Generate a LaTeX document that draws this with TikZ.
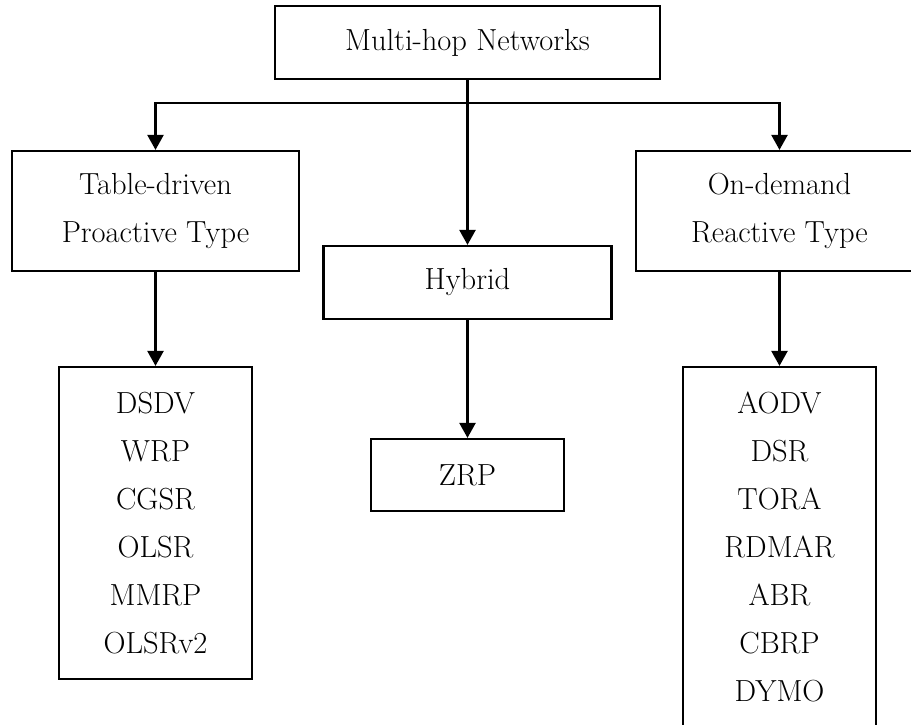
\documentclass[tikz,border=0pt]{standalone}
\usetikzlibrary{arrows.meta}
\begin{document}
\begin{tikzpicture}[x=1pt,y=1pt,
  box/.style={draw=black,line width=2.2pt,inner sep=0pt,align=center,
    font=\fontsize{30.5}{48}\selectfont},
  arr/.style={draw=black,line width=2.4pt,-{Triangle[length=15pt,width=16pt]}}]
\useasboundingbox (0,0) rectangle (911,-724);
\fill[white] (0,0) rectangle (911,-724);
\node[box,minimum width=385pt,minimum height=73pt] (top) at (467.5,-42.5) {Multi-hop Networks};
\node[box,minimum width=287pt,minimum height=120pt] (tab) at (155.5,-211) {Table-driven\\Proactive Type};
\node[box,minimum width=287pt,minimum height=120pt] (ond) at (779.5,-211) {On-demand\\Reactive Type};
\node[box,minimum width=288pt,minimum height=73pt] (hyb) at (467.5,-282.5) {Hybrid};
\node[box,minimum width=193pt,minimum height=72pt] (zrp) at (467.5,-475) {ZRP};
\node[box,minimum width=193pt,minimum height=312pt] (pl) at (155.5,-523) {DSDV\\WRP\\CGSR\\OLSR\\MMRP\\OLSRv2};
\node[box,minimum width=193pt,minimum height=360pt] (rl) at (779.5,-547) {AODV\\DSR\\TORA\\RDMAR\\ABR\\CBRP\\DYMO};
\coordinate (j) at (467.5,-103);
\draw[arr] (top.south) -- (hyb.north);
\draw[arr] (j) -| (tab.north);
\draw[arr] (j) -| (ond.north);
\draw[arr] (tab.south) -- (pl.north);
\draw[arr] (ond.south) -- (rl.north);
\draw[arr] (hyb.south) -- (zrp.north);
\end{tikzpicture}
\end{document}
